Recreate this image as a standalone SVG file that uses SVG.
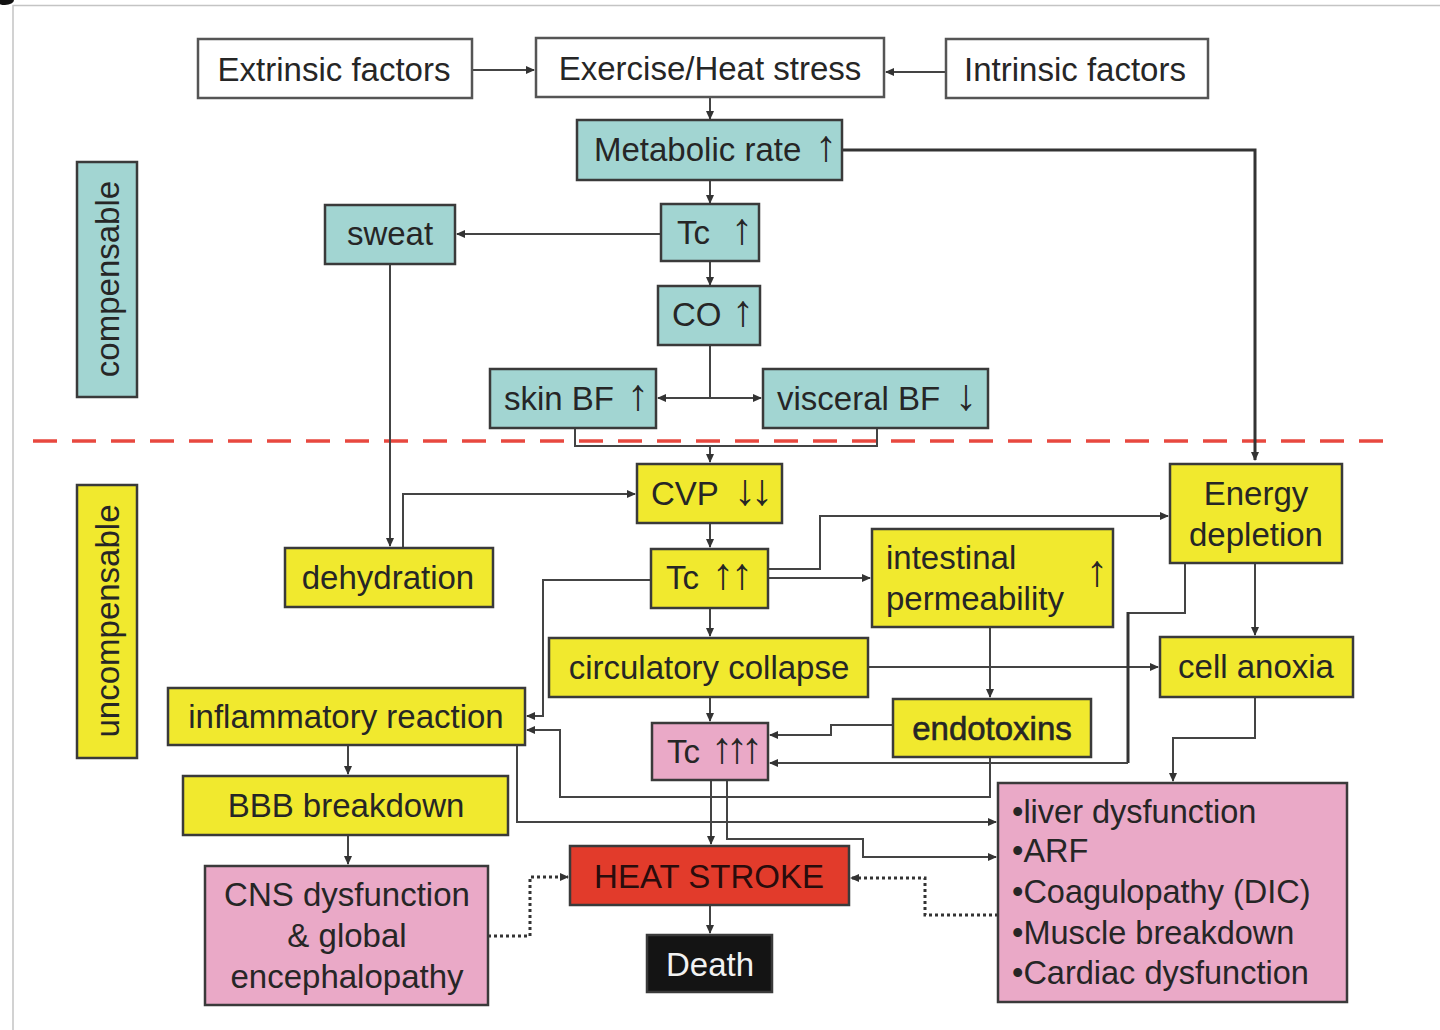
<svg xmlns="http://www.w3.org/2000/svg" width="1440" height="1030" viewBox="0 0 1440 1030">
<defs>
<marker id="ah" markerUnits="userSpaceOnUse" markerWidth="9" markerHeight="8" refX="8" refY="4" orient="auto">
<path d="M0,0 L9,4 L0,8 z" fill="#333"/>
</marker>
<style>
text{font-family:"Liberation Sans","DejaVu Sans",sans-serif;font-size:33px;fill:#262626}
.m{text-anchor:middle}
.a{font-size:44px}
.box{stroke:#3a3a3a;stroke-width:2.5}
.w{fill:#ffffff;stroke:#555}
.t{fill:#a2d5d2}
.y{fill:#f1e92e}
.p{fill:#eaa9c7}
.r{fill:#e23b2b}
.k{fill:#141414}
.c{fill:none;stroke:#444;stroke-width:2}
.ca{fill:none;stroke:#444;stroke-width:2;marker-end:url(#ah)}
.cb{fill:none;stroke:#333;stroke-width:3}
.cd{fill:none;stroke:#333;stroke-width:3;stroke-dasharray:3 3;marker-end:url(#ah)}
</style>
</defs>
<rect width="1440" height="1030" fill="#ffffff"/>
<path d="M13,1030 V5.5 H1440" fill="none" stroke="#c4c4c4" stroke-width="1.5"/>
<ellipse cx="5" cy="0" rx="9" ry="5" fill="#111"/>

<line x1="33" y1="441" x2="1392" y2="441" stroke="#e8483f" stroke-width="3.5" stroke-dasharray="24 15"/>

<g id="connectors">
<path class="ca" d="M472,70 H534"/>
<path class="ca" d="M946,72 H886"/>
<path class="ca" d="M710,97 V119"/>
<path class="ca" d="M710,180 V203"/>
<path class="ca" d="M661,234 H457"/>
<path class="ca" d="M710,261 V285"/>
<path class="ca" d="M710,345 V398 H658"/>
<path class="ca" d="M710,398 H761"/>
<path class="c" d="M575,428 V446 H877 V428"/>
<path class="ca" d="M710,446 V462"/>
<path class="cb" d="M842,150 H1255 V460" marker-end="url(#ah)"/>
<path class="ca" d="M390,264 V546"/>
<path class="ca" d="M403,548 V494 H635"/>
<path class="ca" d="M710,523 V547"/>
<path class="ca" d="M768,578 H870"/>
<path class="ca" d="M768,569 H820 V516 H1168"/>
<path class="ca" d="M651,580 H543 V716 H527"/>
<path class="ca" d="M710,608 V636"/>
<path class="ca" d="M990,627 V697"/>
<path class="ca" d="M868,667 H1158"/>
<path class="ca" d="M1255,563 V635"/>
<path class="ca" d="M710,697 V721"/>
<path class="ca" d="M893,725 H831 V735 H770"/>
<path class="c" d="M1185,563 V613 H1128"/>
<path class="cb" d="M1128,612 V763"/>
<path class="ca" d="M1128,763 H770"/>
<path class="ca" d="M990,757 V797 H560 V730 H527"/>
<path class="ca" d="M517,745 V822 H996"/>
<path class="ca" d="M711,780 V844"/>
<path class="ca" d="M727,780 V839 H863 V857 H996"/>
<path class="ca" d="M1255,697 V738 H1173 V781"/>
<path class="ca" d="M348,745 V774"/>
<path class="ca" d="M348,835 V864"/>
<path class="ca" d="M710,905 V933"/>
<path class="cd" d="M488,936 H530 V877 H568"/>
<path class="cd" d="M998,915 H925 V878 H851"/>
</g>

<g id="extrinsic"><rect class="box w" x="198" y="39" width="274" height="59"/><text class="m" x="334" y="81">Extrinsic factors</text></g>
<g id="exercise"><rect class="box w" x="536" y="38" width="348" height="59"/><text class="m" x="710" y="80">Exercise/Heat stress</text></g>
<g id="intrinsic"><rect class="box w" x="946" y="39" width="262" height="59"/><text class="m" x="1075" y="81">Intrinsic factors</text></g>
<g id="metabolic"><rect class="box t" x="577" y="120" width="265" height="60"/><text x="594" y="161">Metabolic rate<tspan class="a" x="815">↑</tspan></text></g>
<g id="tc1"><rect class="box t" x="661" y="204" width="98" height="57"/><text x="677" y="244">Tc<tspan class="a" x="731">↑</tspan></text></g>
<g id="sweat"><rect class="box t" x="325" y="205" width="130" height="59"/><text class="m" x="390" y="245">sweat</text></g>
<g id="co"><rect class="box t" x="658" y="286" width="102" height="59"/><text x="672" y="326">CO<tspan class="a" x="732">↑</tspan></text></g>
<g id="skinbf"><rect class="box t" x="490" y="369" width="166" height="59"/><text x="504" y="410">skin BF<tspan class="a" x="627">↑</tspan></text></g>
<g id="visceralbf"><rect class="box t" x="763" y="369" width="225" height="59"/><text x="777" y="410">visceral BF<tspan class="a" x="955">↓</tspan></text></g>
<g id="compensable"><rect class="box t" x="77" y="162" width="60" height="235"/><text class="m" transform="translate(119,279) rotate(-90)">compensable</text></g>
<g id="uncompensable"><rect class="box y" x="77" y="485" width="60" height="273"/><text class="m" transform="translate(119,621) rotate(-90)">uncompensable</text></g>
<g id="cvp"><rect class="box y" x="637" y="464" width="145" height="59"/><text x="651" y="505">CVP<tspan class="a" x="734" style="letter-spacing:-5px">↓↓</tspan></text></g>
<g id="energy"><rect class="box y" x="1170" y="464" width="172" height="99"/><text class="m" x="1256" y="505">Energy</text><text class="m" x="1256" y="546">depletion</text></g>
<g id="dehydration"><rect class="box y" x="285" y="548" width="208" height="59"/><text class="m" x="388" y="589">dehydration</text></g>
<g id="tc2"><rect class="box y" x="651" y="549" width="117" height="59"/><text x="666" y="589">Tc<tspan class="a" x="712" style="letter-spacing:-3px">↑↑</tspan></text></g>
<g id="intestinal"><rect class="box y" x="872" y="529" width="241" height="98"/><text x="886" y="569">intestinal</text><text x="886" y="610">permeability</text><text class="a" x="1086" y="586">↑</text></g>
<g id="circulatory"><rect class="box y" x="549" y="638" width="319" height="59"/><text class="m" x="709" y="679">circulatory collapse</text></g>
<g id="anoxia"><rect class="box y" x="1160" y="637" width="193" height="60"/><text class="m" x="1256" y="678">cell anoxia</text></g>
<g id="inflammatory"><rect class="box y" x="168" y="688" width="357" height="57"/><text class="m" x="346" y="728">inflammatory reaction</text></g>
<g id="endotoxins"><rect class="box y" x="893" y="699" width="198" height="58"/><text class="m" x="992" y="740" style="stroke:#262626;stroke-width:0.6">endotoxins</text></g>
<g id="tc3"><rect class="box p" x="652" y="723" width="116" height="57"/><text x="667" y="763">Tc<tspan class="a" x="711" style="letter-spacing:-7px">↑↑↑</tspan></text></g>
<g id="bbb"><rect class="box y" x="183" y="776" width="325" height="59"/><text class="m" x="346" y="817">BBB breakdown</text></g>
<g id="organs"><rect class="box p" x="998" y="783" width="349" height="219"/>
<text x="1012" y="823" style="font-size:32.5px">•liver dysfunction</text>
<text x="1012" y="862" style="font-size:32.5px">•ARF</text>
<text x="1012" y="903" style="font-size:32.5px">•Coagulopathy (DIC)</text>
<text x="1012" y="944" style="font-size:32.5px">•Muscle breakdown</text>
<text x="1012" y="984" style="font-size:32.5px">•Cardiac dysfunction</text></g>
<g id="cns"><rect class="box p" x="205" y="866" width="283" height="139"/>
<text class="m" x="347" y="906">CNS dysfunction</text>
<text class="m" x="347" y="947">&amp; global</text>
<text class="m" x="347" y="988">encephalopathy</text></g>
<g id="heatstroke"><rect class="box r" x="570" y="846" width="279" height="59"/><text class="m" x="709" y="888" style="fill:#2a0c0c">HEAT STROKE</text></g>
<g id="death"><rect class="box k" x="647" y="935" width="125" height="57"/><text class="m" x="710" y="976" style="fill:#f2f2f2">Death</text></g>
</svg>
